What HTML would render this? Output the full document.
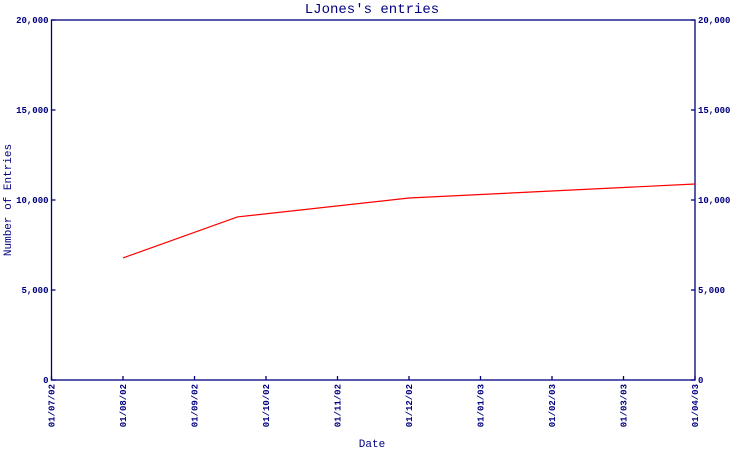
<!DOCTYPE html>
<html><head><meta charset="utf-8"><style>
body{margin:0;background:#fff;}
svg{display:block;font-family:"Liberation Mono",monospace;}
</style></head><body>
<svg width="750" height="450">
<g id="g"></g>
</svg>
<script>
const xLabels=["01/07/02","01/08/02","01/09/02","01/10/02","01/11/02","01/12/02","01/01/03","01/02/03","01/03/03","01/04/03"];
const yTicks=[0,5000,10000,15000,20000];
const yTickLabels=["0","5,000","10,000","15,000","20,000"];
const seriesX=[1,2.6,5,9];
const seriesY=[6780,9060,10110,10890];
const L=51.5,R=695,T=20,B=380,C="#000080";
const xs=i=>L+(R-L)*i/(xLabels.length-1);
const ys=v=>B-(B-T)*v/20000;
const g=document.getElementById('g');
const NS="http://www.w3.org/2000/svg";
function mk(t,a,txt){const e=document.createElementNS(NS,t);for(const k in a)e.setAttribute(k,a[k]);if(txt!=null)e.textContent=txt;g.appendChild(e);return e;}
let e;
e=mk('text',{x:372,y:13,'text-anchor':'middle','font-size':14,fill:C},"LJones's entries");


e=mk('rect',{x:L,y:T,width:R-L,height:B-T,fill:'none',stroke:C,'stroke-width':1.3});


yTicks.forEach((v,i)=>{
 const y=ys(v);
 e=mk('line',{x1:L,x2:L+4,y1:y,y2:y,stroke:C,'stroke-width':1.3});
 
 
 e=mk('line',{x1:R-4,x2:R,y1:y,y2:y,stroke:C,'stroke-width':1.3});
 
 
 e=mk('text',{x:L-3,y:y+3,'text-anchor':'end','font-size':9,'font-weight':'bold',fill:C},yTickLabels[i]);
 
 
 e=mk('text',{x:R+3,y:y+3,'text-anchor':'start','font-size':9,'font-weight':'bold',fill:C},yTickLabels[i]);
 
 
});
xLabels.forEach((lab,i)=>{
 const x=xs(i);
 e=mk('line',{x1:x,x2:x,y1:B-4,y2:B,stroke:C,'stroke-width':1.3});
 
 
 e=mk('text',{x:0,y:0,'text-anchor':'end','font-size':9,'font-weight':'bold',fill:C,transform:`translate(${x+3},${B+4}) rotate(-90)`},lab);
 
 
});
e=mk('text',{x:372,y:447,'text-anchor':'middle','font-size':11,fill:C},"Date");


e=mk('text',{x:0,y:0,'text-anchor':'middle','font-size':11,fill:C,transform:'translate(11,200) rotate(-90)'},"Number of Entries");


e=mk('polyline',{points:seriesX.map((m,i)=>xs(m)+','+ys(seriesY[i])).join(' '),fill:'none',stroke:'#ff0000','stroke-width':1.2});


</script>
</body></html>
